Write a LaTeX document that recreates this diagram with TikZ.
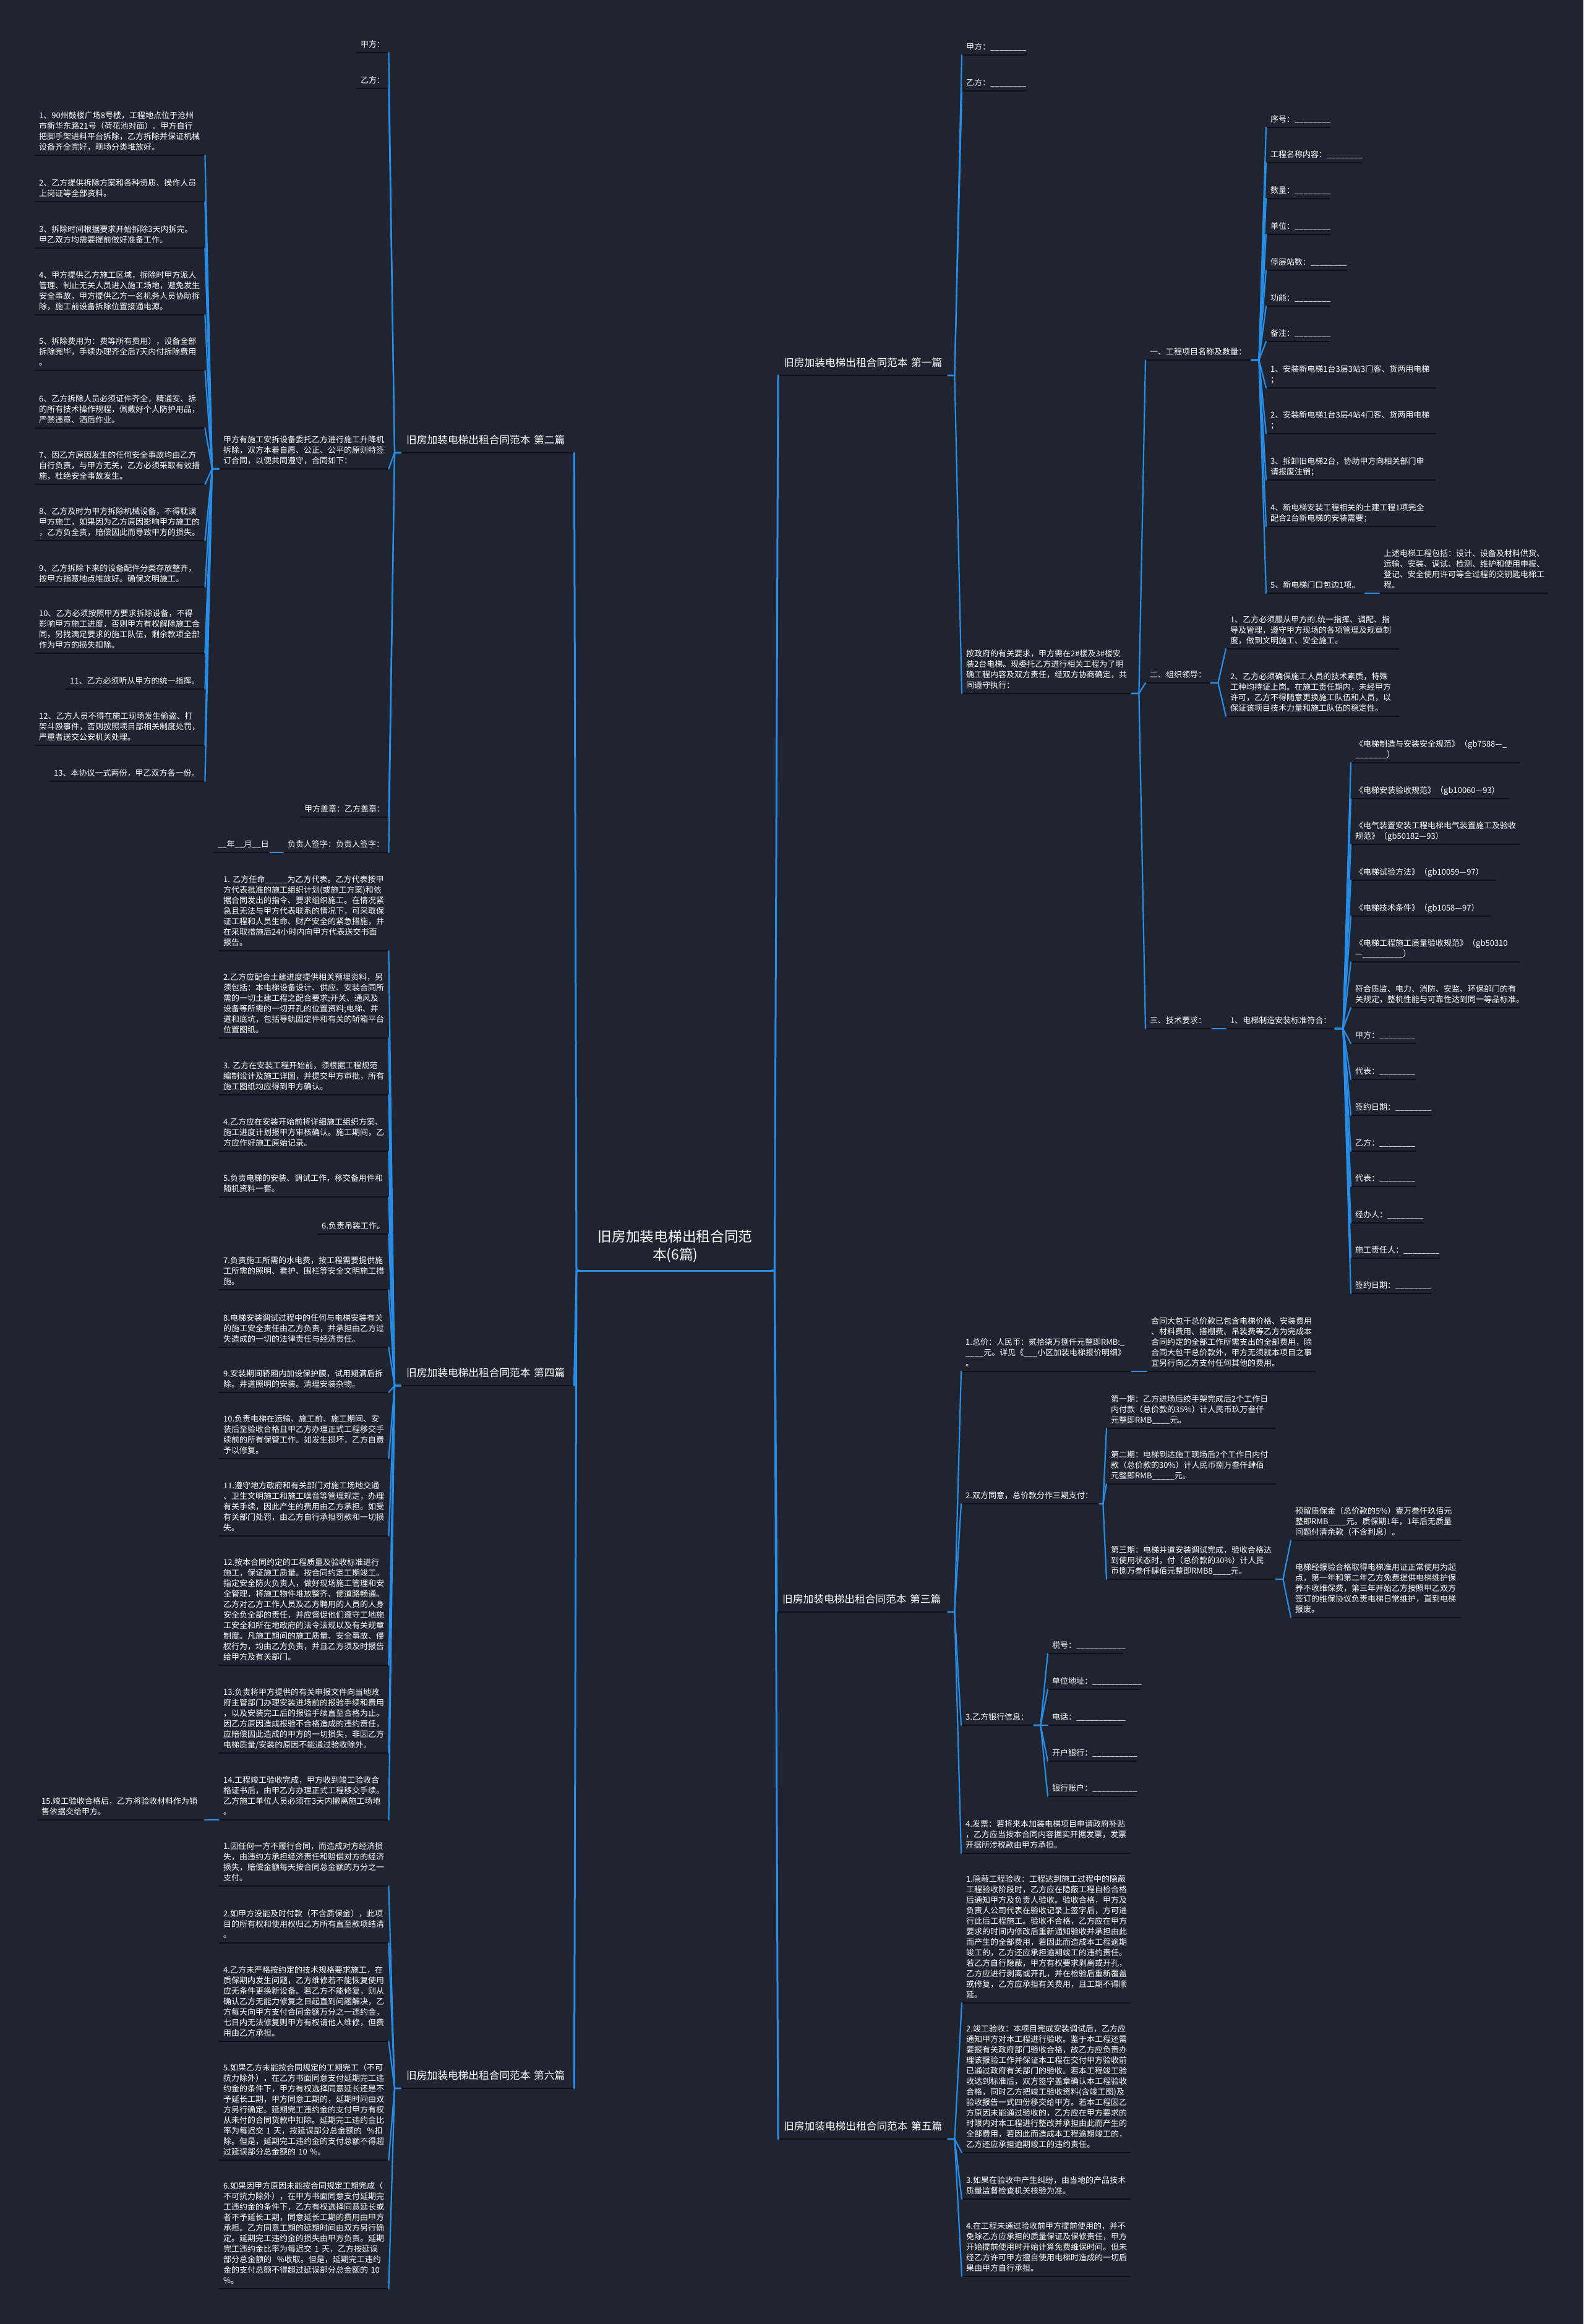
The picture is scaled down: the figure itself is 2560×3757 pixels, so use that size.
\documentclass[tikz,border=0pt]{standalone}
\usepackage{fontspec}
\setmainfont{Noto Sans CJK SC}
\hyphenpenalty=10000
\exhyphenpenalty=10000
\definecolor{bgc}{RGB}{32,36,48}
\definecolor{lkc}{RGB}{40,141,230}
\definecolor{ulc}{RGB}{12,14,20}
\newcommand\lf[5]{\pgfmathsetmacro\tw{#3-#2-14}%
  \node[leaf,text width=\tw pt,anchor=south west] (#1) at (#2,#4) {#5\strut};%
  \draw[ulline] (#1.south west) -- (#1.south east);}
\newcommand\brn[5]{\pgfmathsetmacro\tw{#3-#2-18}%
  \node[branch,text width=\tw pt,anchor=south west] (#1) at (#2,#4) {#5\strut};%
  \draw[ulline] (#1.south west) -- (#1.south east);}
\newcommand\cR[3][11]{\draw[lk] (#2.south east) -- ++(#1,0) -- (#3.south west);}
\newcommand\cL[3][10]{\draw[lk] (#2.south west) -- ++(-#1,0) -- (#3.south east);}
\begin{document}
\begin{tikzpicture}[x=1pt,y=-1pt,
  leaf/.style={inner xsep=7pt,inner ysep=3pt,align=left,text=white,font=\fontsize{13}{17}\selectfont},
  branch/.style={inner xsep=9pt,inner ysep=8.5pt,align=left,text=white,font=\fontsize{16.7}{21}\selectfont},
  rootn/.style={inner xsep=8pt,inner ysep=8.7pt,align=center,text=white,font=\fontsize{22.7}{29}\selectfont},
  ulline/.style={draw=ulc,line width=2pt},
  lk/.style={draw=lkc,line width=2.2pt,line join=round,line cap=round},
  lk0/.style={draw=lkc,line width=3pt,line join=round,line cap=round}]
\fill[bgc] (0,0) rectangle (2560,3757);
\useasboundingbox (0,0) rectangle (2560,3757);

% root
\node[rootn,text width=293pt,anchor=south west] (root) at (937,2054) {旧房加装电梯出租合同范\\本(6篇)\strut};
\draw[lk0] (root.south west) -- (root.south east);

% ---------- LEFT: 第二篇 ----------
\brn{b2}{648}{928}{732}{旧房加装电梯出租合同范本~第二篇}
\lf{b2a}{576}{628}{85}{甲方：}
\lf{b2b}{576}{628}{143}{乙方：}
\lf{b2c}{354}{628}{758}{甲方有施工安拆设备委托乙方进行施工升降机\\拆除，双方本着自愿、公正、公平的原则特签\\订合同，以便共同遵守，合同如下：}
\lf{b2d}{485}{628}{1321}{甲方盖章：乙方盖章：}
\lf{b2e}{458}{628}{1378}{负责人签字：负责人签字：}
\lf{b2f}{345}{436}{1378}{\_\_年\_\_月\_\_日}
\lf{i1}{56}{331}{251}{1、90州鼓楼广场8号楼，工程地点位于沧州\\市新华东路21号（荷花池对面）。甲方自行\\把脚手架进料平台拆除，乙方拆除并保证机械\\设备齐全完好，现场分类堆放好。}
\lf{i2}{56}{331}{326}{2、乙方提供拆除方案和各种资质、操作人员\\上岗证等全部资料。}
\lf{i3}{56}{331}{401}{3、拆除时间根据要求开始拆除3天内拆完。\\甲乙双方均需要提前做好准备工作。}
\lf{i4}{56}{331}{509}{4、甲方提供乙方施工区域，拆除时甲方派人\\管理、制止无关人员进入施工场地，避免发生\\安全事故，甲方提供乙方一名机务人员协助拆\\除，施工前设备拆除位置接通电源。}
\lf{i5}{56}{331}{599}{5、拆除费用为：费等所有费用），设备全部\\拆除完毕，手续办理齐全后7天内付拆除费用\\。}
\lf{i6}{56}{331}{692}{6、乙方拆除人员必须证件齐全，精通安、拆\\的所有技术操作规程，佩戴好个人防护用品，\\严禁违章、酒后作业。}
\lf{i7}{56}{331}{783}{7、因乙方原因发生的任何安全事故均由乙方\\自行负责，与甲方无关，乙方必须采取有效措\\施，杜绝安全事故发生。}
\lf{i8}{56}{331}{874}{8、乙方及时为甲方拆除机械设备，不得耽误\\甲方施工，如果因为乙方原因影响甲方施工的\\，乙方负全责，赔偿因此而导致甲方的损失。}
\lf{i9}{56}{331}{949}{9、乙方拆除下来的设备配件分类存放整齐，\\按甲方指意地点堆放好。确保文明施工。}
\lf{i10}{56}{331}{1056}{10、乙方必须按照甲方要求拆除设备，不得\\影响甲方施工进度，否则甲方有权解除施工合\\同，另找满足要求的施工队伍，剩余款项全部\\作为甲方的损失扣除。}
\lf{i11}{106}{331}{1114}{11、乙方必须听从甲方的统一指挥。}
\lf{i12}{56}{331}{1205}{12、乙方人员不得在施工现场发生偷盗、打\\架斗殴事件，否则按照项目部相关制度处罚，\\严重者送交公安机关处理。}
\lf{i13}{80}{331}{1263}{13、本协议一式两份，甲乙双方各一份。}

% ---------- LEFT: 第四篇 ----------
\brn{b4}{648}{928}{2240}{旧房加装电梯出租合同范本~第四篇}
\lf{f1}{354}{628}{1537}{1.~乙方任命\_\_\_\_\_为乙方代表。乙方代表按甲\\方代表批准的施工组织计划(或施工方案)和依\\据合同发出的指令、要求组织施工。在情况紧\\急且无法与甲方代表联系的情况下，可采取保\\证工程和人员生命、财产安全的紧急措施，并\\在采取措施后24小时内向甲方代表送交书面\\报告。}
\lf{f2}{354}{628}{1678}{2.乙方应配合土建进度提供相关预埋资料，另\\须包括：本电梯设备设计、供应、安装合同所\\需的一切土建工程之配合要求;开关、通风及\\设备等所需的一切开孔的位置资料;电梯、井\\道和底坑，包括导轨固定件和有关的轿箱平台\\位置图纸。}
\lf{f3}{354}{628}{1770}{3.~乙方在安装工程开始前，须根据工程规范\\编制设计及施工详图，并提交甲方审批，所有\\施工图纸均应得到甲方确认。}
\lf{f4}{354}{628}{1861}{4.乙方应在安装开始前将详细施工组织方案、\\施工进度计划报甲方审核确认。施工期间，乙\\方应作好施工原始记录。}
\lf{f5}{354}{628}{1935}{5.负责电梯的安装、调试工作，移交备用件和\\随机资料一套。}
\lf{f6}{513}{628}{1995}{6.负责吊装工作。}
\lf{f7}{354}{628}{2085}{7.负责施工所需的水电费，按工程需要提供施\\工所需的照明、看护、围栏等安全文明施工措\\施。}
\lf{f8}{354}{628}{2178}{8.电梯安装调试过程中的任何与电梯安装有关\\的施工安全责任由乙方负责，并承担由乙方过\\失造成的一切的法律责任与经济责任。}
\lf{f9}{354}{628}{2251}{9.安装期间轿厢内加设保护膜，试用期满后拆\\除。井道照明的安装。清理安装杂物。}
\lf{f10}{354}{628}{2358}{10.负责电梯在运输、施工前、施工期间、安\\装后至验收合格且甲乙方办理正式工程移交手\\续前的所有保管工作。如发生损坏，乙方自费\\予以修复。}
\lf{f11}{354}{628}{2483}{11.遵守地方政府和有关部门对施工场地交通\\、卫生文明施工和施工噪音等管理规定，办理\\有关手续，因此产生的费用由乙方承担。如受\\有关部门处罚，由乙方自行承担罚款和一切损\\失。}
\lf{f12}{354}{628}{2692}{12.按本合同约定的工程质量及验收标准进行\\施工，保证施工质量。按合同约定工期竣工。\\指定安全防火负责人，做好现场施工管理和安\\全管理，将施工物件堆放整齐、使道路畅通。\\乙方对乙方工作人员及乙方聘用的人员的人身\\安全负全部的责任，并应督促他们遵守工地施\\工安全和所在地政府的法令法规以及有关规章\\制度。凡施工期间的施工质量、安全事故、侵\\权行为，均由乙方负责，并且乙方须及时报告\\给甲方及有关部门。}
\lf{f13}{354}{628}{2834}{13.负责将甲方提供的有关申报文件向当地政\\府主管部门办理安装进场前的报验手续和费用\\，以及安装完工后的报验手续直至合格为止。\\因乙方原因造成报验不合格造成的违约责任，\\应赔偿因此造成的甲方的一切损失，非因乙方\\电梯质量/安装的原因不能通过验收除外。}
\lf{f14}{354}{628}{2942}{14.工程竣工验收完成，甲方收到竣工验收合\\格证书后，由甲乙方办理正式工程移交手续。\\乙方施工单位人员必须在3天内撤离施工场地\\。}
\lf{f15}{60}{330}{2942}{15.竣工验收合格后，乙方将验收材料作为销\\售依据交给甲方。}

% ---------- LEFT: 第六篇 ----------
\brn{b6}{648}{928}{3376}{旧房加装电梯出租合同范本~第六篇}
\lf{s1}{354}{628}{3049}{1.因任何一方不履行合同，而造成对方经济损\\失，由违约方承担经济责任和赔偿对方的经济\\损失，赔偿金额每天按合同总金额的万分之一\\支付。}
\lf{s2}{354}{628}{3141}{2.如甲方没能及时付款（不含质保金），此项\\目的所有权和使用权归乙方所有直至款项结清\\。}
\lf{s4}{354}{628}{3300}{4.乙方未严格按约定的技术规格要求施工，在\\质保期内发生问题，乙方维修若不能恢复使用\\应无条件更换新设备。若乙方不能修复，则从\\确认乙方无能力修复之日起直到问题解决，乙\\方每天向甲方支付合同金额万分之一违约金，\\七日内无法修复则甲方有权请他人维修，但费\\用由乙方承担。}
\lf{s5}{354}{628}{3492}{5.如果乙方未能按合同规定的工期完工（不可\\抗力除外），在乙方书面同意支付延期完工违\\约金的条件下，甲方有权选择同意延长还是不\\予延长工期，甲方同意工期的，延期时间由双\\方另行确定。延期完工违约金的支付甲方有权\\从未付的合同货款中扣除。延期完工违约金比\\率为每迟交~1~天，按延误部分总金额的~~\%扣\\除。但是，延期完工违约金的支付总额不得超\\过延误部分总金额的~10~\%。}
\lf{s6}{354}{628}{3700}{6.如果因甲方原因未能按合同规定工期完成（\\不可抗力除外），在甲方书面同意支付延期完\\工违约金的条件下，乙方有权选择同意延长或\\者不予延长工期，同意延长工期的费用由甲方\\承担。乙方同意工期的延期时间由双方另行确\\定。延期完工违约金的损失由甲方负责。延期\\完工违约金比率为每迟交~1~天，乙方按延误\\部分总金额的~~\%收取。但是，延期完工违约\\金的支付总额不得超过延误部分总金额的~10\\\%。}

% ---------- RIGHT: 第一篇 ----------
\brn{b1}{1258}{1532}{607}{旧房加装电梯出租合同范本~第一篇}
\lf{r1a}{1555}{1660}{89}{甲方：\_\_\_\_\_\_\_\_}
\lf{r1b}{1555}{1660}{147}{乙方：\_\_\_\_\_\_\_\_}
\lf{r1c}{1555}{1829}{1121}{按政府的有关要求，甲方需在2\#楼及3\#楼安\\装2台电梯。现委托乙方进行相关工程为了明\\确工程内容及双方责任，经双方协商确定，共\\同遵守执行：}
\lf{g1}{1852}{2023}{582}{一、工程项目名称及数量：}
\lf{g2}{1852}{1957}{1104}{二、组织领导：}
\lf{g3}{1852}{1959}{1663}{三、技术要求：}
\lf{h1}{2047}{2151}{206}{序号：\_\_\_\_\_\_\_\_}
\lf{h2}{2047}{2203}{263}{工程名称内容：\_\_\_\_\_\_\_\_}
\lf{h3}{2047}{2151}{321}{数量：\_\_\_\_\_\_\_\_}
\lf{h4}{2047}{2151}{379}{单位：\_\_\_\_\_\_\_\_}
\lf{h5}{2047}{2178}{437}{停层站数：\_\_\_\_\_\_\_\_}
\lf{h6}{2047}{2151}{495}{功能：\_\_\_\_\_\_\_\_}
\lf{h7}{2047}{2151}{552}{备注：\_\_\_\_\_\_\_\_}
\lf{h8}{2047}{2321}{627}{1、安装新电梯1台3层3站3门客、货两用电梯\\；}
\lf{h9}{2047}{2321}{701}{2、安装新电梯1台3层4站4门客、货两用电梯\\；}
\lf{h10}{2047}{2321}{776}{3、拆卸旧电梯2台，协助甲方向相关部门申\\请报废注销；}
\lf{h11}{2047}{2321}{851}{4、新电梯安装工程相关的土建工程1项完全\\配合2台新电梯的安装需要；}
\lf{h12}{2047}{2206}{959}{5、新电梯门口包边1项。}
\lf{h13}{2230}{2503}{959}{上述电梯工程包括：设计、设备及材料供货、\\运输、安装、调试、检测、维护和使用申报、\\登记、安全使用许可等全过程的交钥匙电梯工\\程。}
\lf{k1}{1982}{2262}{1049}{1、乙方必须服从甲方的.统一指挥、调配、指\\导及管理，遵守甲方现场的各项管理及规章制\\度，做到文明施工、安全施工。}
\lf{k2}{1982}{2262}{1158}{2、乙方必须确保施工人员的技术素质，特殊\\工种均持证上岗。在施工责任期内，未经甲方\\许可，乙方不得随意更换施工队伍和人员，以\\保证该项目技术力量和施工队伍的稳定性。}
\lf{m0}{1982}{2158}{1663}{1、电梯制造安装标准符合：}
\lf{n1}{2184}{2457}{1233}{\mbox{《电梯制造与安装安全规范》（gb7588—\_}\\\_\_\_\_\_\_\_）}
\lf{n2}{2184}{2440}{1291}{\mbox{《电梯安装验收规范》（gb10060—93）}}
\lf{n3}{2184}{2457}{1365}{《电气装置安装工程电梯电气装置施工及验收\\\mbox{规范》（gb50182—93）}}
\lf{n4}{2184}{2418}{1423}{\mbox{《电梯试验方法》（gb10059—97）}}
\lf{n5}{2184}{2411}{1481}{\mbox{《电梯技术条件》（gb1058—97）}}
\lf{n6}{2184}{2457}{1555}{\mbox{《电梯工程施工质量验收规范》（gb50310}\\—\_\_\_\_\_\_\_\_\_）}
\lf{n7}{2184}{2457}{1629}{符合质监、电力、消防、安监、环保部门的有\\关规定，整机性能与可靠性达到同一等品标准。}
\lf{n8}{2184}{2289}{1687}{甲方：\_\_\_\_\_\_\_\_}
\lf{n9}{2184}{2289}{1745}{代表：\_\_\_\_\_\_\_\_}
\lf{n10}{2184}{2315}{1803}{签约日期：\_\_\_\_\_\_\_\_}
\lf{n11}{2184}{2289}{1861}{乙方：\_\_\_\_\_\_\_\_}
\lf{n12}{2184}{2289}{1918}{代表：\_\_\_\_\_\_\_\_}
\lf{n13}{2184}{2302}{1977}{经办人：\_\_\_\_\_\_\_\_}
\lf{n14}{2184}{2328}{2034}{施工责任人：\_\_\_\_\_\_\_\_}
\lf{n15}{2184}{2315}{2091}{签约日期：\_\_\_\_\_\_\_\_}

% ---------- RIGHT: 第三篇 ----------
\brn{b3}{1256}{1532}{2606}{旧房加装电梯出租合同范本~第三篇}
\lf{p1}{1554}{1829}{2217}{1.总价：人民币：贰拾柒万捌仟元整即RMB:\_\\\_\_\_\_元。详见《\_\_\_小区加装电梯报价明细》\\。}
\lf{p1a}{1854}{2127}{2217}{合同大包干总价款已包含电梯价格、安装费用\\、材料费用、搭棚费、吊装费等乙方为完成本\\合同约定的全部工作所需支出的全部费用，除\\合同大包干总价款外，甲方无须就本项目之事\\宜另行向乙方支付任何其他的费用。}
\lf{p2}{1554}{1777}{2431}{2.双方同意，总价款分作三期支付：}
\lf{q1}{1789}{2062}{2309}{第一期：乙方进场后绞手架完成后2个工作日\\内付款（总价款的35\%）计人民币玖万叁仟\\元整即RMB\_\_\_\_元。}
\lf{q2}{1789}{2062}{2399}{第二期：电梯到达施工现场后2个工作日内付\\款（总价款的30\%）计人民币捌万叁仟肆佰\\元整即RMB\_\_\_\_\_元。}
\lf{q3}{1789}{2062}{2553}{第三期：电梯井道安装调试完成，验收合格达\\到使用状态时，付（总价款的30\%）计人民\\币捌万叁仟肆佰元整即RMB8\_\_\_\_元。}
\lf{q3a}{2087}{2362}{2490}{预留质保金（总价款的5\%）壹万叁仟玖佰元\\整即RMB\_\_\_\_元。质保期1年，1年后无质量\\问题付清余款（不含利息）。}
\lf{q3b}{2087}{2362}{2615}{电梯经报验合格取得电梯准用证正常使用为起\\点，第一年和第二年乙方免费提供电梯维护保\\养不收维保费，第三年开始乙方按照甲乙双方\\签订的维保协议负责电梯日常维护，直到电梯\\报废。}
\lf{p3}{1554}{1671}{2789}{3.乙方银行信息：}
\lf{t1}{1694}{1816}{2673}{税号：\_\_\_\_\_\_\_\_\_\_\_}
\lf{t2}{1694}{1843}{2731}{单位地址：\_\_\_\_\_\_\_\_\_\_\_}
\lf{t3}{1694}{1816}{2789}{电话：\_\_\_\_\_\_\_\_\_\_\_}
\lf{t4}{1694}{1837}{2847}{开户银行：\_\_\_\_\_\_\_\_\_\_}
\lf{t5}{1694}{1837}{2904}{银行账户：\_\_\_\_\_\_\_\_\_\_}
\lf{p4}{1554}{1828}{2996}{4.发票：若将来本加装电梯项目申请政府补贴\\，乙方应当按本合同内容据实开据发票，发票\\开据所涉税款由甲方承担。}

% ---------- RIGHT: 第五篇 ----------
\brn{b5}{1258}{1532}{3458}{旧房加装电梯出租合同范本~第五篇}
\lf{u1}{1555}{1828}{3238}{1.隐蔽工程验收：工程达到施工过程中的隐蔽\\工程验收阶段时，乙方应在隐蔽工程自检合格\\后通知甲方及负责人验收。验收合格，甲方及\\负责人公司代表在验收记录上签字后，方可进\\行此后工程施工。验收不合格，乙方应在甲方\\要求的时间内修改后重新通知验收并承担由此\\而产生的全部费用，若因此而造成本工程逾期\\竣工的，乙方还应承担逾期竣工的违约责任。\\若乙方自行隐蔽，甲方有权要求剥离或开孔，\\乙方应进行剥离或开孔，并在检验后重新覆盖\\或修复，乙方应承担有关费用，且工期不得顺\\延。}
\lf{u2}{1555}{1828}{3480}{2.竣工验收：本项目完成安装调试后，乙方应\\通知甲方对本工程进行验收。鉴于本工程还需\\要报有关政府部门验收合格，故乙方应负责办\\理该报验工作并保证本工程在交付甲方验收前\\已通过政府有关部门的验收。若本工程竣工验\\收达到标准后，双方签字盖章确认本工程验收\\合格，同时乙方把竣工验收资料(含竣工图)及\\验收报告一式四份移交给甲方。若本工程因乙\\方原因未能通过验收的，乙方应在甲方要求的\\时限内对本工程进行整改并承担由此而产生的\\全部费用，若因此而造成本工程逾期竣工的，\\乙方还应承担逾期竣工的违约责任。}
\lf{u3}{1555}{1828}{3555}{3.如果在验收中产生纠纷，由当地的产品技术\\质量监督检查机关核验为准。}
\lf{u4}{1555}{1828}{3680}{4.在工程未通过验收前甲方提前使用的，并不\\免除乙方应承担的质量保证及保修责任，甲方\\开始提前使用时开始计算免费维保时间。但未\\经乙方许可甲方擅自使用电梯时造成的一切后\\果由甲方自行承担。}

% ---------- connectors ----------
\foreach \b in {b1,b3,b5}{\draw[lk0] (root.south east) -- ++(6,0) -- (\b.south west);}
\foreach \b in {b2,b4,b6}{\draw[lk0] (root.south west) -- ++(-5,0) -- (\b.south east);}

\foreach \c in {b2a,b2b,b2c,b2d,b2e}{\cL{b2}{\c}}
\foreach \c in {i1,i2,i3,i4,i5,i6,i7,i8,i9,i10,i11,i12,i13}{\cL[11]{b2c}{\c}}
\cL[11]{b2e}{b2f}
\foreach \c in {f1,f2,f3,f4,f5,f6,f7,f8,f9,f10,f11,f12,f13,f14}{\cL{b4}{\c}}
\cL[12]{f14}{f15}
\foreach \c in {s1,s2,s4,s5,s6}{\cL{b6}{\c}}

\foreach \c in {r1a,r1b,r1c}{\cR{b1}{\c}}
\foreach \c in {g1,g2,g3}{\cR[12]{r1c}{\c}}
\foreach \c in {h1,h2,h3,h4,h5,h6,h7,h8,h9,h10,h11,h12}{\cR[12]{g1}{\c}}
\cR[12]{h12}{h13}
\foreach \c in {k1,k2}{\cR[12]{g2}{\c}}
\cR[12]{g3}{m0}
\foreach \c in {n1,n2,n3,n4,n5,n6,n7,n8,n9,n10,n11,n12,n13,n14,n15}{\cR[13]{m0}{\c}}
\foreach \c in {p1,p2,p3,p4}{\cR{b3}{\c}}
\cR[12]{p1}{p1a}
\foreach \c in {q1,q2,q3}{\cR[6]{p2}{\c}}
\foreach \c in {q3a,q3b}{\cR[12]{q3}{\c}}
\foreach \c in {t1,t2,t3,t4,t5}{\cR[11]{p3}{\c}}
\foreach \c in {u1,u2,u3,u4}{\cR{b5}{\c}}
\end{tikzpicture}
\end{document}
